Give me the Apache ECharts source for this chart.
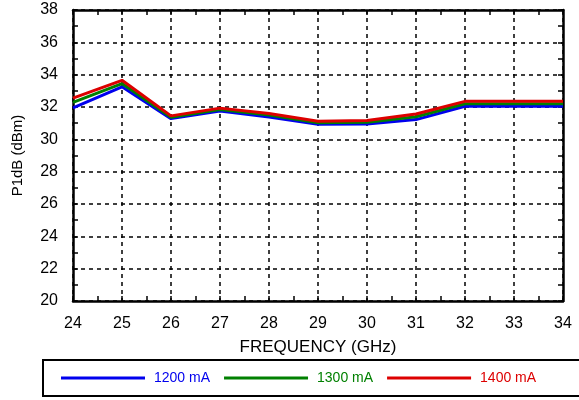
<!DOCTYPE html>
<html>
<head>
<meta charset="utf-8">
<script src="https://cdn.jsdelivr.net/npm/echarts@6/dist/echarts.min.js"></script>
<style>
  html, body { margin: 0; padding: 0; background: #fff; }
  #chart { width: 579px; height: 400px; }
</style>
</head>
<body>
<div id="chart"></div>
<script>
const freqs = [24, 25, 26, 27, 28, 29, 30, 31, 32, 33, 34]
const p1200 = [31.95, 33.25, 31.28, 31.75, 31.38, 30.93, 30.95, 31.22, 32.05, 32.05, 32.05]
const p1300 = [32.28, 33.45, 31.36, 31.85, 31.5, 31.03, 31.05, 31.4, 32.2, 32.2, 32.2]
const p1400 = [32.55, 33.65, 31.45, 31.93, 31.6, 31.12, 31.16, 31.57, 32.35, 32.35, 32.35]
const seriesNames = ['1200 mA', '1300 mA', '1400 mA']
const seriesColors = ['#0000ee', '#008000', '#dd0000']

const font = 'Liberation Sans, Arial, Helvetica, sans-serif'
const chart = echarts.init(document.getElementById('chart'))

const pairs = (ys) => freqs.map((f, i) => [f, ys[i]])
const frameAxis = { show: true, lineStyle: { color: '#000', width: 2.5 } }
const tickIn = { show: true, inside: true, length: 5, lineStyle: { color: '#000', width: 1.5 } }
const minorIn = { show: true, splitNumber: 2, length: 5, lineStyle: { color: '#000', width: 1.5 } }
const gridLines = { show: true, lineStyle: { color: '#000', type: [4, 4], width: 1.5 } }

chart.setOption({
  animation: false,
  grid: { left: 73, right: 16, top: 10, bottom: 99 },
  legend: {
    left: 43, top: 360, width: 700,
    itemWidth: 84, itemHeight: 3, itemGap: 14,
    padding: [11, 50, 11, 18],
    borderColor: '#000', borderWidth: 2,
    icon: 'rect',
    data: seriesNames.map((n, i) => ({ name: n, textStyle: { color: seriesColors[i] } })),
    textStyle: { fontFamily: font, fontSize: 14, padding: [0, 0, 0, 4] }
  },
  xAxis: [{
    type: 'value', min: 24, max: 34, interval: 1,
    name: 'FREQUENCY (GHz)', nameLocation: 'middle', nameGap: 38,
    nameTextStyle: { fontFamily: font, fontSize: 17, color: '#000' },
    axisLine: frameAxis, axisTick: tickIn, minorTick: minorIn,
    axisLabel: { color: '#000', fontFamily: font, fontSize: 16, margin: 15 },
    splitLine: gridLines
  }, {
    type: 'value', position: 'top', min: 24, max: 34, interval: 1,
    axisLine: frameAxis, axisTick: tickIn, minorTick: minorIn,
    axisLabel: { show: false }, splitLine: { show: false }
  }],
  yAxis: [{
    type: 'value', min: 20, max: 38, interval: 2,
    name: 'P1dB (dBm)', nameLocation: 'middle', nameGap: 48,
    nameTextStyle: { fontFamily: font, fontSize: 15, color: '#000' },
    axisLine: frameAxis, axisTick: tickIn, minorTick: minorIn,
    axisLabel: { color: '#000', fontFamily: font, fontSize: 16, margin: 15 },
    splitLine: gridLines
  }, {
    type: 'value', position: 'right', min: 20, max: 38, interval: 2,
    axisLine: frameAxis, axisTick: tickIn, minorTick: minorIn,
    axisLabel: { show: false }, splitLine: { show: false }
  }],
  series: [p1200, p1300, p1400].map((ys, i) => ({
    name: seriesNames[i], type: 'line', data: pairs(ys),
    symbol: 'none', color: seriesColors[i],
    lineStyle: { width: 3, color: seriesColors[i] }
  }))
})
</script>
</body>
</html>
